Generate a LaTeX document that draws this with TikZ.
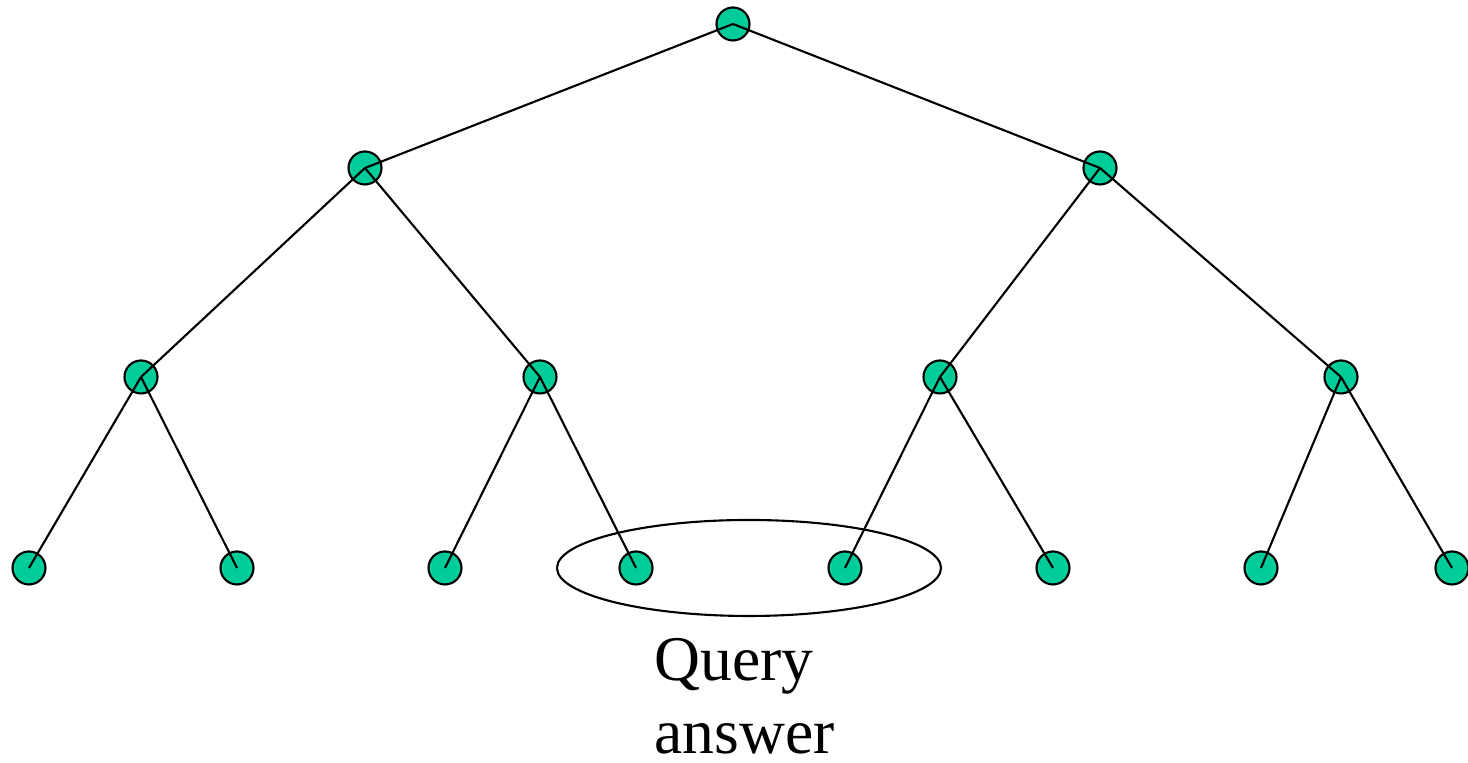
\documentclass[tikz,border=0pt]{standalone}
\usepackage{fontspec}
\setmainfont{Liberation Serif}
\usetikzlibrary{positioning,shapes.geometric}
\definecolor{treeGreen}{RGB}{0,204,153}
\tikzset{
  vertex/.style={circle, draw=black, fill=treeGreen, line width=0.6pt, minimum size=0.33cm, inner sep=0pt},
  edge/.style={draw=black, line width=0.6pt},
  answerbox/.style={ellipse, draw=black, line width=0.6pt, minimum width=3.84cm, minimum height=0.96cm, inner sep=0pt},
  label/.style={font=\fontsize{18.1}{20.8}\selectfont, align=left, inner sep=0pt}
}
\begin{document}
\begin{tikzpicture}
        \useasboundingbox (0,0) rectangle (14.68,7.63);
        % root and inner levels
        \node[vertex] (r) at (7.33,7.39) {};
        \node[vertex] (l) at (3.65,5.95) {};
        \node[vertex] (rr) at (11.00,5.95) {};
        \node[vertex] (ll) at (1.41,3.86) {};
        \node[vertex] (lr) at (5.40,3.86) {};
        \node[vertex] (rl) at (9.40,3.86) {};
        \node[vertex] (rrr) at (13.41,3.86) {};
        % leaves
        \foreach \x [count=\i] in {0.29,2.37,4.45,6.36,8.45,10.53,12.61,14.52}
          \node[vertex] (leaf\i) at (\x,1.95) {};
        \node[answerbox] (ans) at (7.49,1.95) {};
        \node[label, anchor=north west] (qa) at (6.54,1.25) {Query\\answer};
        \draw[edge] (r.center) -- (l.center);
        \draw[edge] (r.center) -- (rr.center);
        \draw[edge] (l.center) -- (ll.center);
        \draw[edge] (l.center) -- (lr.center);
        \draw[edge] (rr.center) -- (rl.center);
        \draw[edge] (rr.center) -- (rrr.center);
        \draw[edge] (ll.center) -- (leaf1.center);
        \draw[edge] (ll.center) -- (leaf2.center);
        \draw[edge] (lr.center) -- (leaf3.center);
        \draw[edge] (lr.center) -- (leaf4.center);
        \draw[edge] (rl.center) -- (leaf5.center);
        \draw[edge] (rl.center) -- (leaf6.center);
        \draw[edge] (rrr.center) -- (leaf7.center);
        \draw[edge] (rrr.center) -- (leaf8.center);
      \end{tikzpicture}
\end{document}
